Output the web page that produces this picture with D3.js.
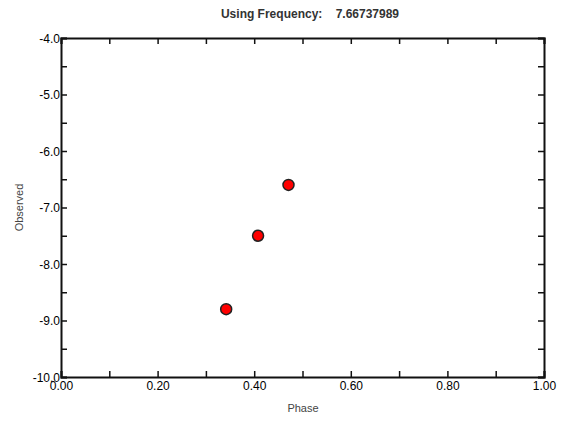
<!DOCTYPE html>
<html><head><meta charset="utf-8">
<script src="https://cdn.jsdelivr.net/npm/d3@7"></script>
<style>body{margin:0;background:#fff}svg{display:block}text{font-family:"Liberation Sans",Arial,sans-serif}</style>
</head><body><svg id="c" width="579" height="421"></svg>
<script>
const phase = [0.342, 0.408, 0.471];
const observed = [-8.80, -7.50, -6.60];
const xTickLabels = [0, 0.2, 0.4, 0.6, 0.8, 1.0];
const yTickLabels = [-4, -5, -6, -7, -8, -9, -10];
const titleText = "Using Frequency:    7.66737989";

const svg = d3.select("#c");
const L = 61, R = 544, T = 38, B = 377;
const x = d3.scaleLinear().domain([0, 1]).range([L, R]);
const y = d3.scaleLinear().domain([-10, -4]).range([B, T]);
const tickLen = 6;
const minorX = d3.range(0, 11).map(i => i / 10);
const minorY = d3.range(0, 13).map(i => -10 + i * 0.5);
const fmt1 = d => d.toFixed(1);
const fmt2 = d => d.toFixed(2);

// bottom axis
const gb = svg.append("g").attr("transform", `translate(0,${B})`)
  .call(d3.axisBottom(x).tickValues(minorX).tickSize(-tickLen).tickPadding(4)
    .tickFormat(d => xTickLabels.some(v => Math.abs(v - d) < 1e-9) ? fmt2(d) : ""));
// top axis
const gt = svg.append("g").attr("transform", `translate(0,${T})`)
  .call(d3.axisTop(x).tickValues(minorX).tickSize(-tickLen).tickFormat(""));
// left axis
const gl = svg.append("g").attr("transform", `translate(${L},0)`)
  .call(d3.axisLeft(y).tickValues(minorY).tickSize(-tickLen).tickPadding(1)
    .tickFormat(d => yTickLabels.includes(d) ? fmt1(d) : ""));
// right axis
const gr = svg.append("g").attr("transform", `translate(${R},0)`)
  .call(d3.axisRight(y).tickValues(minorY).tickSize(-tickLen).tickFormat(""));

[gb, gt, gl, gr].forEach(g => {
  g.select(".domain").attr("stroke", "#111").attr("stroke-width", 2);
  g.selectAll(".tick line").attr("stroke", "#111").attr("stroke-width", 1.5);
  g.selectAll(".tick text").attr("fill", "#000").style("font-size", "12px")
    .style("font-family", '"Liberation Sans",Arial,sans-serif');
});
gl.selectAll(".tick text").attr("dy", "0.35em");
gb.selectAll(".tick text").attr("dy", "0.71em");

// points
svg.append("g").selectAll("circle").data(phase).join("circle")
  .attr("cx", d => x(d)).attr("cy", (d, i) => y(observed[i]))
  .attr("r", 5.5).attr("fill", "#ff0000").attr("stroke", "#222").attr("stroke-width", 1.5);

// titles
svg.append("text").attr("x", 310).attr("y", 18).attr("text-anchor", "middle")
  .style("font-size", "12px").style("font-weight", "bold").attr("fill", "#333")
  .attr("xml:space", "preserve").style("white-space", "pre").text(titleText);
svg.append("text").attr("x", 303).attr("y", 412).attr("text-anchor", "middle")
  .style("font-size", "11px").attr("fill", "#444").text("Phase");
svg.append("text").attr("transform", `translate(23,${(T + B) / 2}) rotate(-90)`).attr("text-anchor", "middle")
  .style("font-size", "11px").attr("fill", "#444").text("Observed");
</script></body></html>
